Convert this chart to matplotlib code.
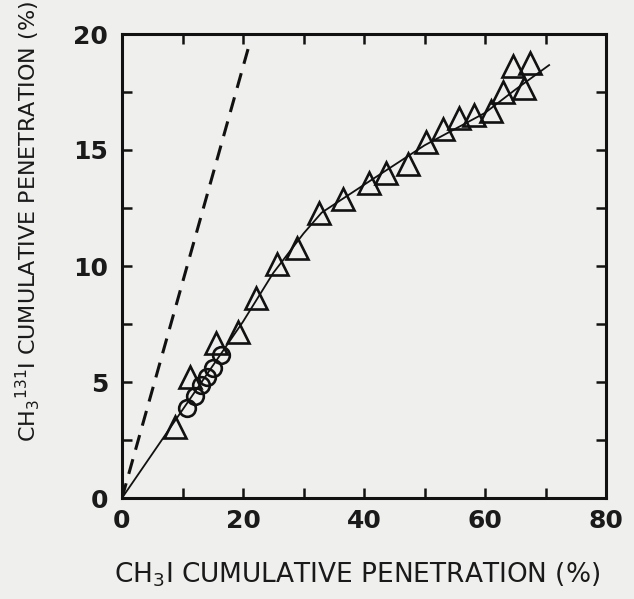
import matplotlib
matplotlib.use("Agg")
import matplotlib.pyplot as plt
from matplotlib.ticker import MultipleLocator

# Data
tri_x = [8.8, 11.2, 15.5, 19.1, 22.2, 25.6, 29.0, 32.6, 36.6, 40.8, 43.6, 47.2,
         50.3, 53.1, 55.7, 58.2, 61.0, 63.0, 64.7, 66.4, 67.5]
tri_y = [3.05, 5.2, 6.7, 7.17, 8.6, 10.1, 10.76, 12.27, 12.9, 13.56, 14.0, 14.4,
         15.36, 15.9, 16.37, 16.5, 16.7, 17.5, 18.6, 17.66, 18.74]
circ_x = [10.7, 12.0, 13.0, 14.0, 15.1, 16.4]
circ_y = [3.87, 4.4, 4.85, 5.2, 5.6, 6.15]
fit_x = [0, 10, 20, 25, 30, 33, 40, 50, 60, 65, 70.6]
fit_y = [0, 3.8, 7.6, 9.7, 11.4, 12.3, 13.5, 15.2, 16.6, 17.6, 18.66]
ref_x = [0, 21.1]
ref_y = [0, 19.6]

x_ticklabels = ["0", "20", "40", "60", "80"]
y_ticklabels = ["0", "5", "10", "15", "20"]

bg = "#efefed"
fig = plt.figure(figsize=(6.34, 5.99), dpi=100, facecolor=bg)
ax = fig.add_axes([122/634, 1-498/599, (606-122)/634, (498-34)/599], facecolor=bg)

ax.plot(fit_x, fit_y, color="#111111", lw=1.3, zorder=2)
ax.plot(ref_x, ref_y, color="#111111", lw=2.2, dashes=(5, 3.2), zorder=2)
ax.plot(tri_x, tri_y, ls="none", marker="^", ms=16, mfc="none", mec="#111111",
        mew=1.9, zorder=3)
ax.plot(circ_x, circ_y, ls="none", marker="o", ms=12, mfc="none", mec="#111111",
        mew=1.9, zorder=3)

ax.set_xlim(0, 80)
ax.set_ylim(0, 20)
ax.xaxis.set_minor_locator(MultipleLocator(10))
ax.yaxis.set_minor_locator(MultipleLocator(2.5))
ax.set_xticks([0, 20, 40, 60, 80])
ax.set_xticklabels(x_ticklabels)
ax.set_yticks([0, 5, 10, 15, 20])
ax.set_yticklabels(y_ticklabels)

for side in ["top", "right", "bottom", "left"]:
    ax.spines[side].set_linewidth(2.2)
    ax.spines[side].set_color("#111111")

ax.tick_params(which="both", direction="in", top=True, right=True,
               length=7, width=1.8, color="#111111")
ax.tick_params(axis="x", which="major", pad=8, labelsize=18)
ax.tick_params(axis="y", which="major", pad=10, labelsize=18)
for lab in ax.get_xticklabels() + ax.get_yticklabels():
    lab.set_fontweight("bold")
    lab.set_color("#1a1a1a")

fig.text(357/634, 1-575/599, r"CH$_3$I CUMULATIVE PENETRATION (%)",
         ha="center", va="center", fontsize=19, color="#1a1a1a")
fig.text(28/634, 1-222/599, r"CH$_3$$^{131}$I CUMULATIVE PENETRATION (%)",
         ha="center", va="center", rotation=90, fontsize=16, color="#1a1a1a")

fig.savefig("out.png", dpi=100, facecolor=bg)
